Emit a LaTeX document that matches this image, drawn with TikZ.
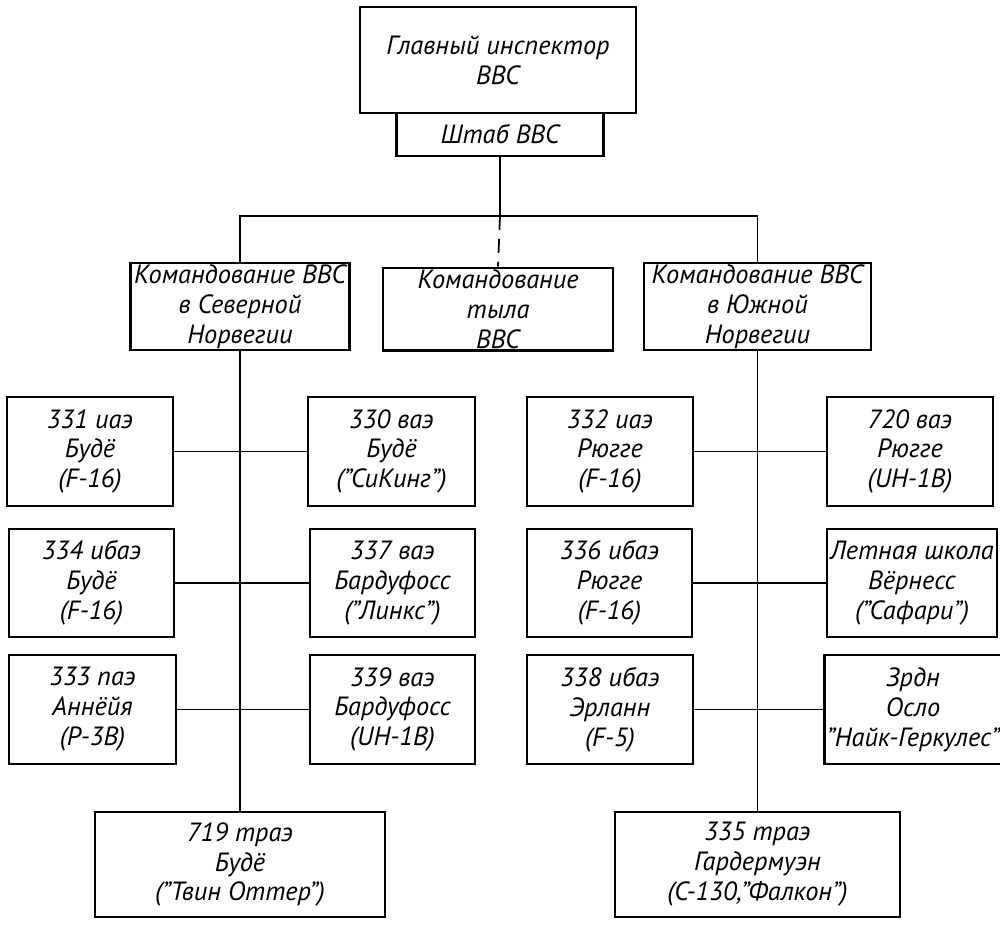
\documentclass[tikz,border=0pt]{standalone}
\usepackage{fontspec}
\setmainfont{PT Sans}
\begin{document}
\begin{tikzpicture}[x=0.2mm,y=-0.2mm,
    unitbox/.style 2 args={draw,line width=1.5pt,align=center,inner sep=1pt,
      minimum width=#1*0.2mm,minimum height=#2*0.2mm,
      font=\fontsize{15}{17}\selectfont\itshape},
    link/.style={line width=1pt}]
    \useasboundingbox (0,0) rectangle (1000,926);
    % top
    \node[unitbox={276}{106}] (chief) at (498,60) {Главный инспектор\\ВВС};
    \node[unitbox={207}{43}] (staff) at (500,134.5) {Штаб ВВС};
    \coordinate (hub) at (500,216);
    % commands
    \node[unitbox={219}{83}] (north) at (240,306.5) {Командование ВВС\\в Северной\\Норвегии};
    \node[unitbox={230}{82}] (rear) at (498,309) {Командование\\тыла\\ВВС};
    \node[unitbox={227}{83}] (south) at (757.5,306.5) {Командование ВВС\\в Южной\\Норвегии};
    % north units
    \node[unitbox={166}{109}] (iae331) at (90,451.5) {331 иаэ\\Будё\\(F-16)};
    \node[unitbox={167}{109}] (vae330) at (391.5,451.5) {330 ваэ\\Будё\\("СиКинг")};
    \node[unitbox={165}{108}] (ibae334) at (91.5,583) {334 ибаэ\\Будё\\(F-16)};
    \node[unitbox={165}{108}] (vae337) at (392.5,583) {337 ваэ\\Бардуфосс\\("Линкс")};
    \node[unitbox={167}{109}] (pae333) at (92.5,709.5) {333 паэ\\Аннёйя\\(P-3B)};
    \node[unitbox={165}{109}] (vae339) at (392.5,709.5) {339 ваэ\\Бардуфосс\\(UH-1B)};
    \node[unitbox={290}{105}] (trae719) at (240,864.5) {719 траэ\\Будё\\("Твин Оттер")};
    % south units
    \node[unitbox={166}{109}] (iae332) at (610,451.5) {332 иаэ\\Рюгге\\(F-16)};
    \node[unitbox={166}{109}] (vae720) at (910,451.5) {720 ваэ\\Рюгге\\(UH-1B)};
    \node[unitbox={165}{108}] (ibae336) at (609.5,583) {336 ибаэ\\Рюгге\\(F-16)};
    \node[unitbox={170}{108}] (school) at (912,583) {Летная школа\\Вёрнесс\\("Сафари")};
    \node[unitbox={166}{109}] (ibae338) at (610,709.5) {338 ибаэ\\Эрланн\\(F-5)};
    \node[unitbox={168}{109}] (zrdn) at (913,709.5) {Зрдн\\Осло\\"Найк-Геркулес"};
    \node[unitbox={285}{105}] (trae335) at (757.5,864.5) {335 траэ\\Гардермуэн\\(C-130,"Фалкон")};
    % connectors
    \draw[link] (staff) -- (hub);
    \draw[link] (north.north) |- (hub) -| (south.north);
    \draw[link,dash pattern=on 8pt off 5pt] (hub) -- (rear.north);
    \draw[link] (north) -- (trae719);
    \draw[link] (south) -- (trae335);
    \draw[link] (iae331) -- (vae330);
    \draw[link] (ibae334) -- (vae337);
    \draw[link] (pae333) -- (vae339);
    \draw[link] (iae332) -- (vae720);
    \draw[link] (ibae336) -- (school);
    \draw[link] (ibae338) -- (zrdn);
\end{tikzpicture}
\end{document}
